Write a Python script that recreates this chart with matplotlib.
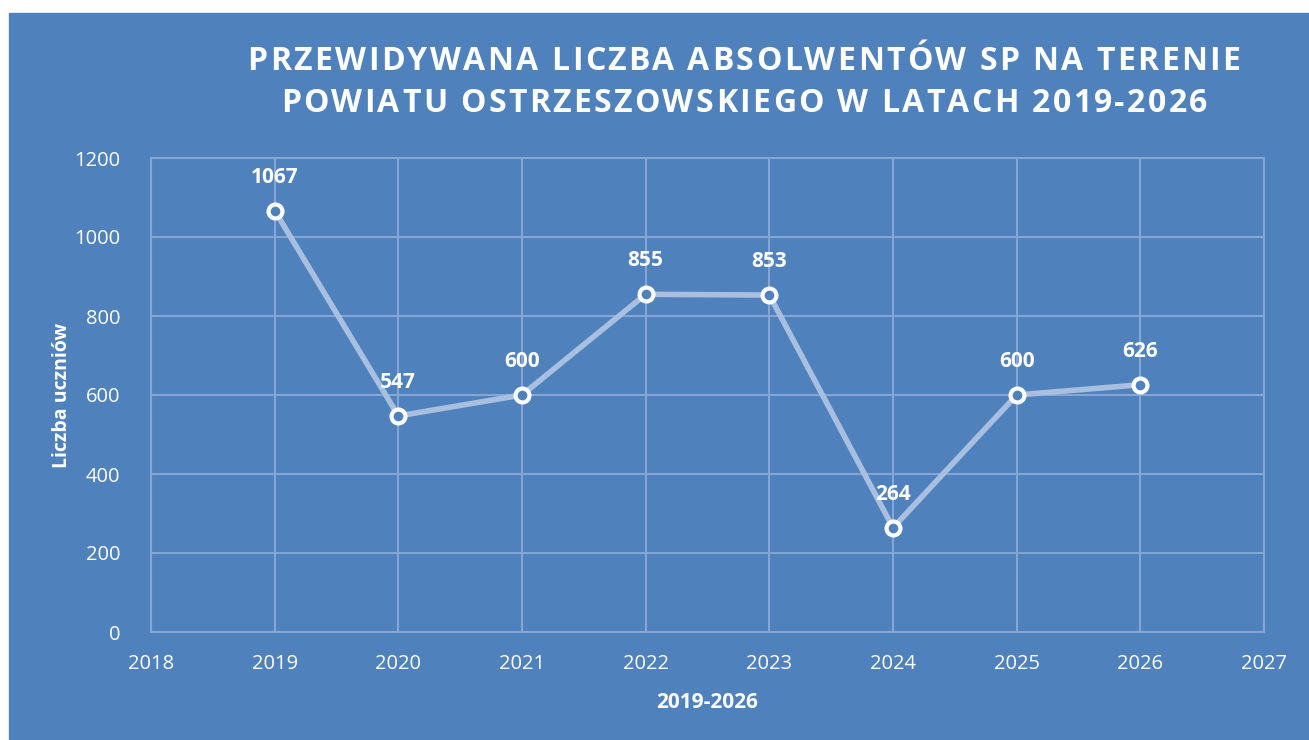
import matplotlib.pyplot as plt
from matplotlib.patches import Rectangle

years = [2019, 2020, 2021, 2022, 2023, 2024, 2025, 2026]
absolwenci = [1067, 547, 600, 855, 853, 264, 600, 626]
title_lines = ['PRZEWIDYWANA LICZBA ABSOLWENTÓW SP NA TERENIE',
               'POWIATU OSTRZESZOWSKIEGO W LATACH 2019-2026']

BG = '#4F81BD'
GRID = '#84A6D3'
LINE = '#A9BFE0'

plt.rcParams['font.family'] = ['Open Sans', 'DejaVu Sans']

W, H = 1309, 740
fig = plt.figure(figsize=(W / 100, H / 100), dpi=100)
fig.patch.set_facecolor('white')
fig.patches.append(Rectangle((9 / W, 0), 1, 1 - 13 / H,
                             transform=fig.transFigure, color=BG, zorder=-5))

ax = fig.add_axes([151 / W, 1 - 632 / H, (1264 - 151) / W, (632 - 158) / H])
ax.set_facecolor(BG)
ax.set_xlim(2018, 2027)
ax.set_ylim(0, 1200)
ax.set_xticks(range(2018, 2028))
ax.set_yticks(range(0, 1201, 200))
ax.grid(True, color=GRID, lw=1.5)
ax.set_axisbelow(True)
for s in ax.spines.values():
    s.set_color(GRID)
    s.set_linewidth(1.5)
ax.tick_params(length=0, colors='white', labelsize=14.5, pad=16)
ax.tick_params(axis='y', pad=22)

ax.plot(years, absolwenci, color=LINE, lw=4, marker='o', ms=10,
        mfc=BG, mec='white', mew=3, zorder=3)
for x, y in zip(years, absolwenci):
    ax.annotate(str(y), (x, y), xytext=(0, 24), textcoords='offset points',
                ha='center', va='center', color='white', fontsize=15,
                fontweight='bold')

ax.set_xlabel('2019-2026', color='white', fontsize=15, fontweight='bold', labelpad=13)
ax.set_ylabel('Liczba uczniów', color='white', fontsize=14, fontweight='bold', labelpad=2)

# title with letter spacing: place characters one by one
renderer = fig.canvas.get_renderer()
tsize = 23
def char_width(c):
    t = fig.text(0, 0, c, fontsize=tsize, fontweight='bold')
    w = t.get_window_extent(renderer).width
    t.remove()
    return w

line_widths = []
for line in title_lines:
    line_widths.append([char_width(c) if c != ' ' else char_width('a b') - char_width('ab')
                        for c in line])
track = (993 - sum(line_widths[0])) / (len(title_lines[0]) - 1)
for i, (line, ws) in enumerate(zip(title_lines, line_widths)):
    total = sum(ws) + track * (len(line) - 1)
    x = 744 - total / 2
    ypix = H - (62 + 42 * i)
    for c, w in zip(line, ws):
        if c != ' ':
            fig.text(x / W, ypix / H, c, ha='left', va='center', color='white',
                     fontsize=tsize, fontweight='bold')
        x += w + track

fig.savefig('out.png', dpi=100, facecolor='white')
